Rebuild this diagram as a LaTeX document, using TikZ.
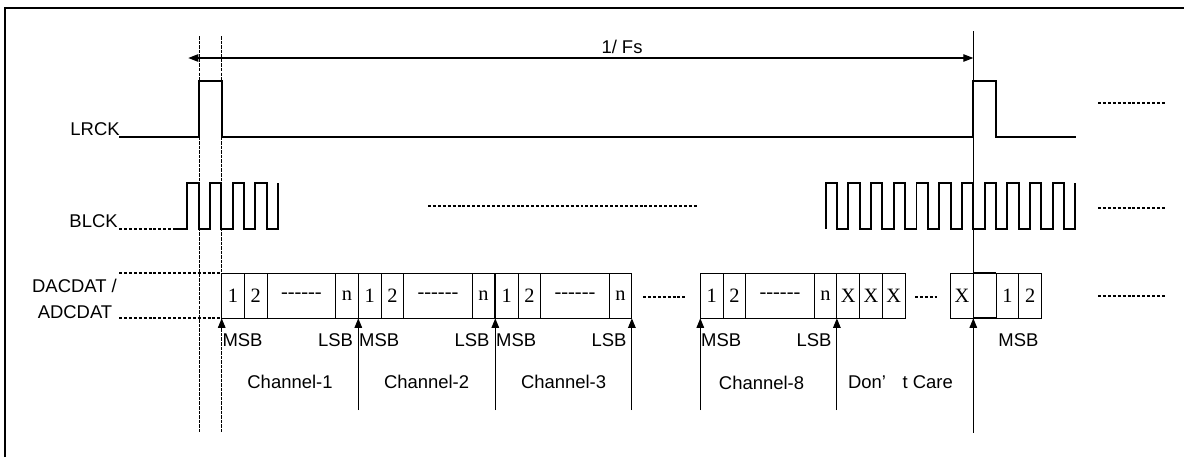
\documentclass[tikz,border=0pt]{standalone}
\usepackage{fontspec}
\setmainfont{Liberation Serif}
\setsansfont{Liberation Sans}
\usepackage{tikz}
\usetikzlibrary{positioning, arrows.meta, calc}

\newcommand{\hyphens}{\mbox{-}\mbox{-}\mbox{-}\mbox{-}\mbox{-}\mbox{-}}

\tikzset{
  signal/.style={line width=1.1pt, line join=miter},
  dotline/.style={line width=1pt, dash pattern=on 1.7pt off 1.1pt},
  guide/.style={line width=0.6pt, dash pattern=on 2pt off 0.6pt},
  cell/.style={draw, line width=0.6pt, outer sep=0pt, inner sep=0pt,
    minimum width=0.4553cm, minimum height=0.9cm,
    font=\fontsize{11.6}{12}\selectfont},
  lbl/.style={font=\sffamily\fontsize{10.5}{12}\selectfont, inner sep=0pt},
  uparrow/.style={line width=0.6pt, -{Triangle[length=1.9mm, width=1.5mm]}},
}

\begin{document}
\begin{tikzpicture}[x=0.02cm, y=-0.02cm]
  \useasboundingbox (0,0) rectangle (1184,457);
  \draw[line width=0.8pt] (5,457) -- (5,8) -- (1184,8);

  % frame period
  \draw[guide] (199.3,36) -- (199.3,433);
  \draw[guide] (221.7,36) -- (221.7,433);
  \draw[line width=0.6pt] (973.3,31) -- (973.3,433);
  \draw[line width=0.6pt, {Triangle[length=2mm, width=1.5mm]}-{Triangle[length=2mm, width=1.5mm]}] (188.3,58) -- (973.3,58);
  \node[lbl, anchor=base] (fs) at (622,53) {1/ Fs};

  % LRCK
  \node[lbl, anchor=base east] (lrck) at (120,135) {LRCK};
  \draw[signal] (119,137) -- (199.3,137) -- (199.3,81) -- (221.7,81) -- (221.7,137)
    -- (973.3,137) -- (973.3,81) -- (996,81) -- (996,137) -- (1076,137);
  \draw[dotline] (1098,103) -- (1165,103);

  % BLCK
  \node[lbl, anchor=base east] (blck) at (118,227) {BLCK};
  \draw[dotline] (119,229) -- (176,229);
  \draw[signal] (176,229) -- (187.3,229)
    \foreach \k in {1,...,4} { -- ++(0,-46) -- ++(11.35,0) -- ++(0,46) -- ++(11.35,0) } -- ++(0,-46);
  \draw[dotline] (428,205.7) -- (698,205.7);
  \draw[signal] (825.7,229)
    \foreach \k in {1,...,11} { -- ++(0,-46) -- ++(11.35,0) -- ++(0,46) -- ++(11.35,0) } -- ++(0,-46);
  \draw[dotline] (1098,208) -- (1165,208);

  % DACDAT / ADCDAT
  \node[lbl, anchor=base] (dac) at (74.5,292.7) {DACDAT /};
  \node[lbl, anchor=base] (adc) at (75,318) {ADCDAT};
  \draw[dotline] (119,273.3) -- (221.7,273.3);
  \draw[dotline] (119,318.3) -- (221.7,318.3);

  \foreach \ch/\x in {1/221.7, 2/358.3, 3/495.3, 8/700.3} {
    \node[cell, anchor=west] (a\ch) at (\x,295.8) {1};
    \node[cell, right=0pt of a\ch] (b\ch) {2};
    \node[cell, right=0pt of b\ch, minimum width=1.366cm] (m\ch) {\hyphens};
    \node[cell, right=0pt of m\ch] (n\ch) {n};
    \node[lbl, below right=0.3cm and 0.01cm of a\ch.south west] (msb\ch) {MSB};
    \node[lbl, below left=0.3cm and 0.1cm of n\ch.south east] (lsb\ch) {LSB};
  }
  \draw[dotline] (643,297) -- (686,297);

  \node[cell, right=0pt of n8] (x1) {X};
  \node[cell, right=0pt of x1] (x2) {X};
  \node[cell, right=0pt of x2] (x3) {X};
  \draw[dotline] (915,297) -- (937,297);
  \node[cell, anchor=east] (x4) at (973.3,295.8) {X};
  \node[cell, right=0pt of x4] (gap) {};
  \draw[line width=1.1pt] (gap.north west) -- (gap.north east) (gap.south west) -- (gap.south east);
  \node[cell, right=0pt of gap] (one) {1};
  \node[cell, right=0pt of one] (two) {2};
  \node[lbl, below right=0.3cm and 0.04cm of one.south west] (msb9) {MSB};
  \draw[dotline] (1098,296) -- (1165,296);

  % slot arrows
  \coordinate (tail) at (0,410);
  \foreach \p in {a2.south west, a3.south west, n3.south east, a8.south west, n8.south east}
    \draw[uparrow] (\p |- tail) -- (\p);
  \draw[uparrow] (a1.south west) ++(0,12) -- (a1.south west);
  \draw[uparrow] (x4.south east) ++(0,12) -- (x4.south east);

  % channel names
  \foreach \ch in {1,2,3} {
    \coordinate (mid\ch) at ($(a\ch.south west)!0.5!(n\ch.south east)$);
    \node[lbl, below=1.13cm of mid\ch] (chan\ch) {Channel-\ch};
  }
  \node[lbl, anchor=north] (chan8) at (761.5,375.5) {Channel-8};
  \node[lbl, anchor=north] (care) at (900.5,375.5) {Don’\hspace{0.9em}t Care};
\end{tikzpicture}
\end{document}
